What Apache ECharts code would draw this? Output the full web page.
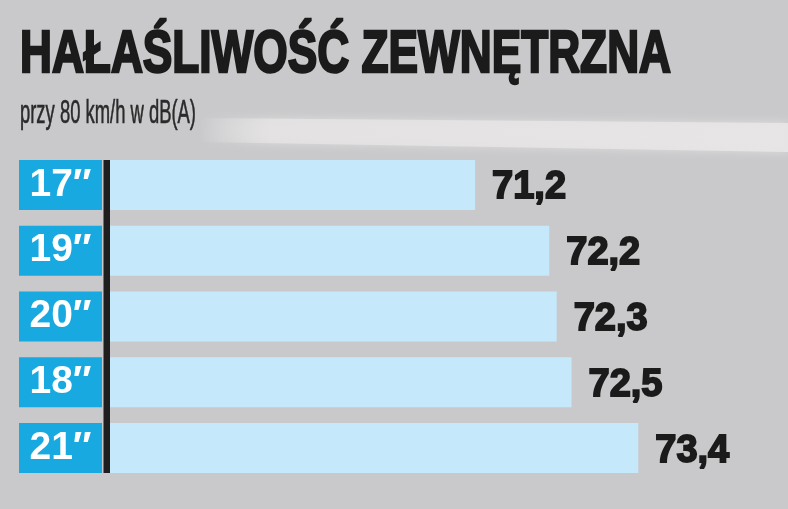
<!DOCTYPE html>
<html>
<head>
<meta charset="utf-8">
<script src="https://cdn.jsdelivr.net/npm/echarts@6/dist/echarts.min.js"></script>
<style>
html,body{margin:0;padding:0;background:#c9c9cb;}
#c{width:788px;height:509px;}
</style>
</head>
<body>
<div id="c"></div>
<script>
const titleText = 'HAŁAŚLIWOŚĆ ZEWNĘTRZNA';
const subtitleText = 'przy 80 km/h w dB(A)';
const categories = ['17″', '19″', '20″', '18″', '21″'];
const values = [71.2, 72.2, 72.3, 72.5, 73.4];
const axisMin = 66.28;
const axisMax = 75;

const chart = echarts.init(document.getElementById('c'));
const FONT = '"Liberation Sans", Arial, sans-serif';
const BAR_W = 50;

// measure text to condense it to the reference widths
function textWidth(txt, font) {
  const ctx = document.createElement('canvas').getContext('2d');
  ctx.font = font;
  return ctx.measureText(txt).width;
}
const TITLE_SIZE = 60, SUB_SIZE = 34;
const titleScale = 651 / textWidth(titleText, 'bold ' + TITLE_SIZE + 'px "Liberation Sans"');
const subScale = 176 / textWidth(subtitleText, SUB_SIZE + 'px "Liberation Sans"');

const option = {
  backgroundColor: '#c9c9cb',
  animation: false,
  grid: { left: 110, right: 788 - 110 - 647, top: 152, bottom: 28, containLabel: false },
  xAxis: {
    type: 'value', min: axisMin, max: axisMax, show: false,
    splitLine: { show: false }
  },
  yAxis: {
    type: 'category', data: categories, inverse: true,
    axisLine: { show: false }, axisTick: { show: false },
    axisLabel: {
      margin: 8,
      formatter: v => '{b|' + v + '}',
      rich: {
        b: {
          width: 83, height: BAR_W, lineHeight: BAR_W, align: 'center',
          backgroundColor: '#19a9e1', color: '#ffffff',
          fontFamily: FONT, fontWeight: 'bold', fontSize: 39
        }
      }
    }
  },
  series: [{
    type: 'bar', data: values, barWidth: BAR_W,
    itemStyle: { color: '#c5e9fa' },
    label: {
      show: true, position: 'right', distance: 17,
      formatter: p => String(p.value).replace('.', ','),
      fontFamily: FONT, fontWeight: 'bold', fontSize: 38, color: '#1b1b1b',
      textBorderColor: '#1b1b1b', textBorderWidth: 1.8, offset: [0, 3]
    },
    z: 3
  }]
};
chart.setOption(option);

// decorations: title texts, light streak, vertical axis line spanning the bars
const yTop = chart.convertToPixel({ yAxisIndex: 0 }, categories[0]) - BAR_W / 2;
const yBot = chart.convertToPixel({ yAxisIndex: 0 }, categories[categories.length - 1]) + BAR_W / 2;
const x0 = chart.convertToPixel({ xAxisIndex: 0 }, axisMin);
chart.setOption({
  graphic: [
    {
      type: 'polygon', z: -10, silent: true,
      shape: { points: [[200, 118], [788, 123], [788, 152], [200, 142]] },
      style: {
        fill: new echarts.graphic.LinearGradient(0, 0, 1, 0, [
          { offset: 0, color: 'rgba(230,228,229,0)' },
          { offset: 0.12, color: 'rgba(230,228,229,0.8)' },
          { offset: 1, color: 'rgba(232,230,231,0.9)' }
        ]),
        shadowBlur: 10, shadowColor: 'rgba(230,228,229,0.8)'
      }
    },
    {
      type: 'text', z: 20, silent: true,
      x: 20, y: 55, scaleX: titleScale, scaleY: 1, originX: 0, originY: 0,
      style: {
        text: titleText, fill: '#1b1b1b', stroke: '#1b1b1b', lineWidth: 2.5,
        font: 'bold ' + TITLE_SIZE + 'px "Liberation Sans"', verticalAlign: 'middle', align: 'left'
      }
    },
    {
      type: 'text', z: 20, silent: true,
      x: 20, y: 114, scaleX: subScale, scaleY: 1, originX: 0, originY: 0,
      style: {
        text: subtitleText, fill: '#2a2a2a', stroke: '#2a2a2a', lineWidth: 0.6,
        font: SUB_SIZE + 'px "Liberation Sans"', verticalAlign: 'middle', align: 'left'
      }
    },
    {
      type: 'rect', z: 10, silent: true,
      shape: { x: x0 - 6.5, y: yTop, width: 6.5, height: yBot - yTop },
      style: { fill: '#1e1e1e' }
    }
  ]
});
</script>
</body>
</html>
